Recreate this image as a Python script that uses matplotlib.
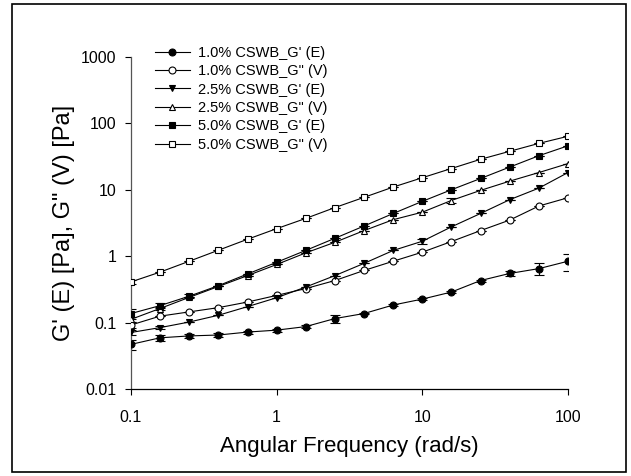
import matplotlib
matplotlib.use("Agg")
import matplotlib.pyplot as plt
from matplotlib.patches import Rectangle

plt.rcParams['font.family'] = ['Liberation Sans', 'DejaVu Sans']

# angular frequency (rad/s)
freq = [0.1, 0.158, 0.251, 0.398, 0.631, 1.0, 1.58, 2.51, 3.98, 6.31,
        10.0, 15.8, 25.1, 39.8, 63.1, 100.0]

# moduli (Pa)
g1_e = [0.047, 0.059, 0.063, 0.065, 0.072, 0.077, 0.087, 0.115, 0.137, 0.184,
        0.226, 0.288, 0.43, 0.55, 0.65, 0.84]
g1_v = [0.092, 0.125, 0.145, 0.168, 0.204, 0.257, 0.325, 0.43, 0.61, 0.84,
        1.15, 1.66, 2.43, 3.5, 5.7, 7.6]
g25_e = [0.071, 0.084, 0.102, 0.129, 0.174, 0.237, 0.343, 0.51, 0.78, 1.22,
         1.68, 2.76, 4.4, 7.1, 10.6, 18.2]
g25_v = [0.112, 0.163, 0.24, 0.35, 0.51, 0.75, 1.12, 1.62, 2.43, 3.55,
         4.6, 6.9, 9.8, 13.5, 18.2, 24.8]
g5_e = [0.137, 0.18, 0.25, 0.36, 0.54, 0.81, 1.22, 1.86, 2.85, 4.4,
        6.7, 10.0, 14.8, 22.0, 32.6, 46.0]
g5_v = [0.41, 0.575, 0.84, 1.23, 1.80, 2.6, 3.7, 5.4, 7.7, 11.0,
        15.2, 20.9, 28.8, 38.0, 50.0, 64.0]

# error bars (Pa)
err1_e = [0.008, 0.006, 0.005, 0.005, 0.004, 0.004, 0.004, 0.017, 0.004, 0.007,
          0.01, 0.01, 0.015, 0.05, 0.13, 0.24]
err1_v = [0.01, 0, 0, 0, 0, 0, 0, 0, 0, 0, 0, 0, 0, 0, 0, 0]
err25_e = [0.006, 0.005, 0, 0, 0, 0, 0, 0, 0, 0, 0.15, 0, 0, 0, 0, 0]
err25_v = [0.01, 0.01, 0, 0, 0, 0, 0, 0, 0, 0, 0, 0.5, 0, 0, 0, 0]
err5_e = [0.022, 0.015, 0.015, 0, 0, 0, 0, 0, 0, 0, 0, 0, 0, 0, 0, 0]
err5_v = [0.03, 0, 0, 0, 0, 0, 0, 0, 0, 0, 0, 0, 0, 0, 0, 0]

series = [
    ("1.0% CSWB_G' (E)", g1_e, err1_e, 'o', 'black'),
    ('1.0% CSWB_G" (V)', g1_v, err1_v, 'o', 'white'),
    ("2.5% CSWB_G' (E)", g25_e, err25_e, 'v', 'black'),
    ('2.5% CSWB_G" (V)', g25_v, err25_v, '^', 'white'),
    ("5.0% CSWB_G' (E)", g5_e, err5_e, 's', 'black'),
    ('5.0% CSWB_G" (V)', g5_v, err5_v, 's', 'white'),
]

fig = plt.figure(figsize=(6.31, 4.76), dpi=100)
ax = fig.add_axes([131 / 631, 1 - 389 / 476, 437 / 631, 332 / 476])

for label, vals, err, mk, face in series:
    ax.errorbar(freq, vals, yerr=err, fmt='none', ecolor='black',
                elinewidth=0.8, capsize=3.5, capthick=0.8, zorder=2)
    ax.plot(freq, vals, color='black', lw=0.8, marker=mk, markersize=5,
            markerfacecolor=face, markeredgecolor='black', markeredgewidth=0.8,
            label=label, zorder=3)

ax.set_xscale('log')
ax.set_yscale('log')
ax.set_xlim(0.1, 100)
ax.set_ylim(0.01, 1000)
ax.set_xticks([0.1, 1, 10, 100])
ax.set_xticklabels(['0.1', '1', '10', '100'])
ax.set_yticks([0.01, 0.1, 1, 10, 100, 1000])
ax.set_yticklabels(['0.01', '0.1', '1', '10', '100', '1000'])
ax.minorticks_off()
ax.tick_params(axis='x', direction='out', length=4, width=0.8, pad=11, labelsize=11.5)
ax.tick_params(axis='y', direction='out', length=4, width=0.8, pad=6.5, labelsize=11.5)

for s in ['top', 'right']:
    ax.spines[s].set_visible(False)
ax.spines['bottom'].set_linewidth(0.9)
ax.spines['left'].set_linewidth(0.9)
ax.spines['left'].set_color('#555555')

ax.set_xlabel('Angular Frequency (rad/s)', fontsize=16, labelpad=8)
ax.set_ylabel('G\' (E) [Pa], G" (V) [Pa]', fontsize=17, labelpad=4)

ax.legend(loc='upper left', bbox_to_anchor=(149 / 631, 1 - 40 / 476),
          bbox_transform=fig.transFigure, frameon=False, fontsize=10.5,
          handlelength=2.4, handletextpad=0.55, labelspacing=0.3,
          borderaxespad=0)

# frame around the whole picture
fig.add_artist(Rectangle((12 / 631, 4 / 476), 614 / 631, 468 / 476,
                         transform=fig.transFigure, fill=False,
                         edgecolor='black', lw=1.2))

fig.savefig('out.png', dpi=100)
